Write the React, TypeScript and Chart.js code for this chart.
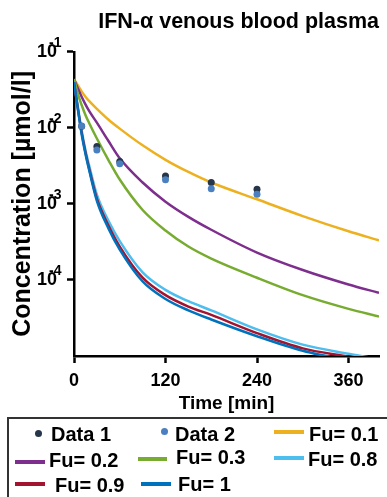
import React, { useEffect, useRef } from "react";
import { Chart, registerables } from "chart.js";

Chart.register(...registerables);

const FONT = '"Liberation Sans", Arial, Helvetica, sans-serif';

// ---- data ----
const chartTitle = "IFN-α venous blood plasma";
const xTitle = "Time [min]";
const yTitle = "Concentration [µmol/l]";

const simTimes = [0, 5, 10, 15, 20, 30, 45, 60, 90, 120, 150, 180, 240, 300, 360, 400];
const fu01 = [0.0437, 0.0363, 0.0302, 0.0257, 0.0224, 0.0178, 0.0129, 0.00977, 0.00589, 0.0038, 0.00263, 0.00191, 0.00115, 0.000692, 0.000437, 0.000331];
const fu02 = [0.0437, 0.0331, 0.0257, 0.0204, 0.0166, 0.0117, 0.00676, 0.00398, 0.00191, 0.00107, 0.000676, 0.000457, 0.000229, 0.000135, 0.0000871, 0.0000676];
const fu03 = [0.0437, 0.0282, 0.02, 0.0148, 0.0115, 0.00724, 0.0038, 0.00209, 0.000832, 0.000447, 0.000275, 0.000191, 0.000107, 0.0000631, 0.0000417, 0.0000331];
const fu08 = [0.0398, 0.0191, 0.00933, 0.00513, 0.00316, 0.00132, 0.000603, 0.000324, 0.000126, 0.0000741, 0.0000525, 0.0000398, 0.0000224, 0.0000141, 0.0000107, 0.00000912];
const fu09 = [0.0398, 0.0182, 0.00871, 0.00479, 0.00288, 0.00117, 0.000525, 0.000275, 0.000107, 0.0000631, 0.0000447, 0.0000347, 0.00002, 0.0000126, 0.00000977, 0.00000813];
const fu10 = [0.0398, 0.0178, 0.00832, 0.00457, 0.00275, 0.0011, 0.000479, 0.000251, 0.0000955, 0.0000562, 0.0000398, 0.0000302, 0.0000182, 0.0000117, 0.0000087, 0.0000071];

const obsTimes = [10, 30, 60, 120, 180, 240];
const data1 = [0.0105, 0.00567, 0.0036, 0.00233, 0.00191, 0.00156];
const data2 = [0.0106, 0.00513, 0.00336, 0.00207, 0.00158, 0.00134];

const xTickValues = [0, 120, 240, 360];
const yTickValues = [1e-4, 1e-3, 1e-2, 1e-1];
const yTickBase = "10";
const yTickExponents = ["-4", "-3", "-2", "-1"];

const seriesLabels = ["Fu= 0.1", "Fu= 0.2", "Fu= 0.3", "Fu= 0.8", "Fu= 0.9", "Fu= 1"];
const seriesValues = [fu01, fu02, fu03, fu08, fu09, fu10];
const seriesColors = ["#EDB120", "#7E2F8E", "#77AC30", "#4DBEEE", "#A2142F", "#0072BD"];
const dataLabels = ["Data 1", "Data 2"];
const dataColors = ["#26364b", "#4a80bf"];

const expPlugin = {
  id: "expLabels",
  afterDraw(chart: any) {
    const s = chart.scales.y;
    const ctx = chart.ctx;
    const tickLen = s.options.grid.tickLength;
    const pad = s.options.ticks.padding;
    ctx.save();
    ctx.font = `bold 14px ${FONT}`;
    ctx.fillStyle = "#000";
    ctx.textAlign = "left";
    ctx.textBaseline = "alphabetic";
    yTickValues.forEach((v, i) => {
      const py = s.getPixelForValue(v);
      ctx.fillText(yTickExponents[i], s.right - tickLen - pad - 8, py - 5);
    });
    ctx.restore();
  },
};

export default function App() {
  const ref = useRef<HTMLCanvasElement | null>(null);

  useEffect(() => {
    if (!ref.current) return;
    const lineSets = seriesLabels.map((label, i) => ({
      label,
      data: simTimes.map((t, j) => ({ x: t, y: seriesValues[i][j] })),
      borderColor: seriesColors[i],
      backgroundColor: seriesColors[i],
      borderWidth: 2.5,
      pointRadius: 0,
      cubicInterpolationMode: "monotone" as const,
      fill: false,
      order: 7 - i,
    }));
    const pointSets = [data1, data2].map((vals, i) => ({
      label: dataLabels[i],
      data: obsTimes.map((t, j) => ({ x: t, y: vals[j] })),
      showLine: false,
      pointRadius: 3.5,
      pointBorderWidth: 0,
      pointBackgroundColor: dataColors[i],
      borderColor: dataColors[i],
      backgroundColor: dataColors[i],
      order: 1 - i,
    }));

    const chart = new Chart(ref.current, {
      type: "line",
      data: { datasets: [...pointSets, ...lineSets] as any },
      options: {
        animation: false,
        responsive: false,
        maintainAspectRatio: false,
        layout: { padding: { left: 0, top: 0, right: 8, bottom: 79 } },
        plugins: {
          legend: { display: false },
          tooltip: { enabled: false },
          title: {
            display: true,
            text: chartTitle,
            color: "#000",
            align: "end",
            fullSize: false,
            font: { family: FONT, size: 21.5, weight: "bold" },
            padding: { top: 9, bottom: 17 },
          },
        },
        scales: {
          x: {
            type: "linear",
            min: 0,
            max: 400,
            afterBuildTicks: (s: any) => {
              s.ticks = xTickValues.map((v) => ({ value: v }));
            },
            afterFit: (s: any) => {
              s.height = 62;
            },
            ticks: {
              color: "#000",
              padding: 7,
              maxRotation: 0,
              font: { family: FONT, size: 18, weight: "bold" },
            },
            grid: {
              drawOnChartArea: false,
              drawTicks: true,
              tickLength: 7,
              tickWidth: 2.5,
              tickColor: "#000",
            },
            border: { color: "#000", width: 2.5 },
            title: {
              display: true,
              text: xTitle,
              color: "#000",
              font: { family: FONT, size: 19, weight: "bold" },
              padding: { top: 0, bottom: 3 },
            },
          },
          y: {
            type: "logarithmic",
            min: 1e-5,
            max: 1e-1,
            afterBuildTicks: (s: any) => {
              s.ticks = yTickValues.map((v) => ({ value: v }));
            },
            afterFit: (s: any) => {
              s.width = 74;
            },
            ticks: {
              color: "#000",
              padding: 10,
              font: { family: FONT, size: 18, weight: "bold" },
              callback: () => yTickBase,
            },
            grid: {
              drawOnChartArea: false,
              drawTicks: true,
              tickLength: 7,
              tickWidth: 2.5,
              tickColor: "#000",
            },
            border: { color: "#000", width: 2.5 },
            title: {
              display: true,
              text: yTitle,
              color: "#000",
              font: { family: FONT, size: 25, weight: "bold" },
              padding: { top: 8, bottom: 0 },
            },
          },
        },
      } as any,
      plugins: [expPlugin],
    });
    return () => chart.destroy();
  }, []);

  const legendFont = `bold 20px ${FONT}`;
  const textStyle = (left: number, cy: number): React.CSSProperties => ({
    position: "absolute",
    left,
    top: cy - 10,
    font: legendFont,
    lineHeight: "20px",
    color: "#000",
    whiteSpace: "nowrap",
  });
  const lineStyle = (left: number, right: number, cy: number, color: string): React.CSSProperties => ({
    position: "absolute",
    left,
    top: cy - 2,
    width: right - left,
    height: 4,
    background: color,
  });
  const dotStyle = (cx: number, cy: number, color: string): React.CSSProperties => ({
    position: "absolute",
    left: cx - 3.5,
    top: cy - 3.5,
    width: 7,
    height: 7,
    borderRadius: "50%",
    background: color,
  });

  return (
    <div style={{ position: "fixed", left: 0, top: 0, width: 387, height: 497, overflow: "hidden", background: "#fff" }}>
      <canvas ref={ref} width={387} height={497} style={{ position: "absolute", left: 0, top: 0, width: 387, height: 497 }} />
      <div
        style={{
          position: "absolute",
          left: 7,
          top: 417,
          width: 400,
          height: 100,
          borderLeft: "2px solid #333",
          borderTop: "2px solid #333",
          boxSizing: "border-box",
        }}
      />
      <div style={dotStyle(38, 433, dataColors[0])} />
      <div style={textStyle(51, 434)}>{dataLabels[0]}</div>
      <div style={dotStyle(164, 431, dataColors[1])} />
      <div style={textStyle(175, 434)}>{dataLabels[1]}</div>
      <div style={lineStyle(274, 304, 432, seriesColors[0])} />
      <div style={textStyle(309, 434)}>{seriesLabels[0]}</div>

      <div style={lineStyle(15, 45, 462, seriesColors[1])} />
      <div style={textStyle(49, 460)}>{seriesLabels[1]}</div>
      <div style={lineStyle(138, 167, 459, seriesColors[2])} />
      <div style={textStyle(176, 457)}>{seriesLabels[2]}</div>
      <div style={lineStyle(274, 304, 458, seriesColors[3])} />
      <div style={textStyle(308, 459)}>{seriesLabels[3]}</div>

      <div style={lineStyle(15, 45, 484, seriesColors[4])} />
      <div style={textStyle(55, 485)}>{seriesLabels[4]}</div>
      <div style={lineStyle(141, 171, 484, seriesColors[5])} />
      <div style={textStyle(178, 484)}>{seriesLabels[5]}</div>
    </div>
  );
}
